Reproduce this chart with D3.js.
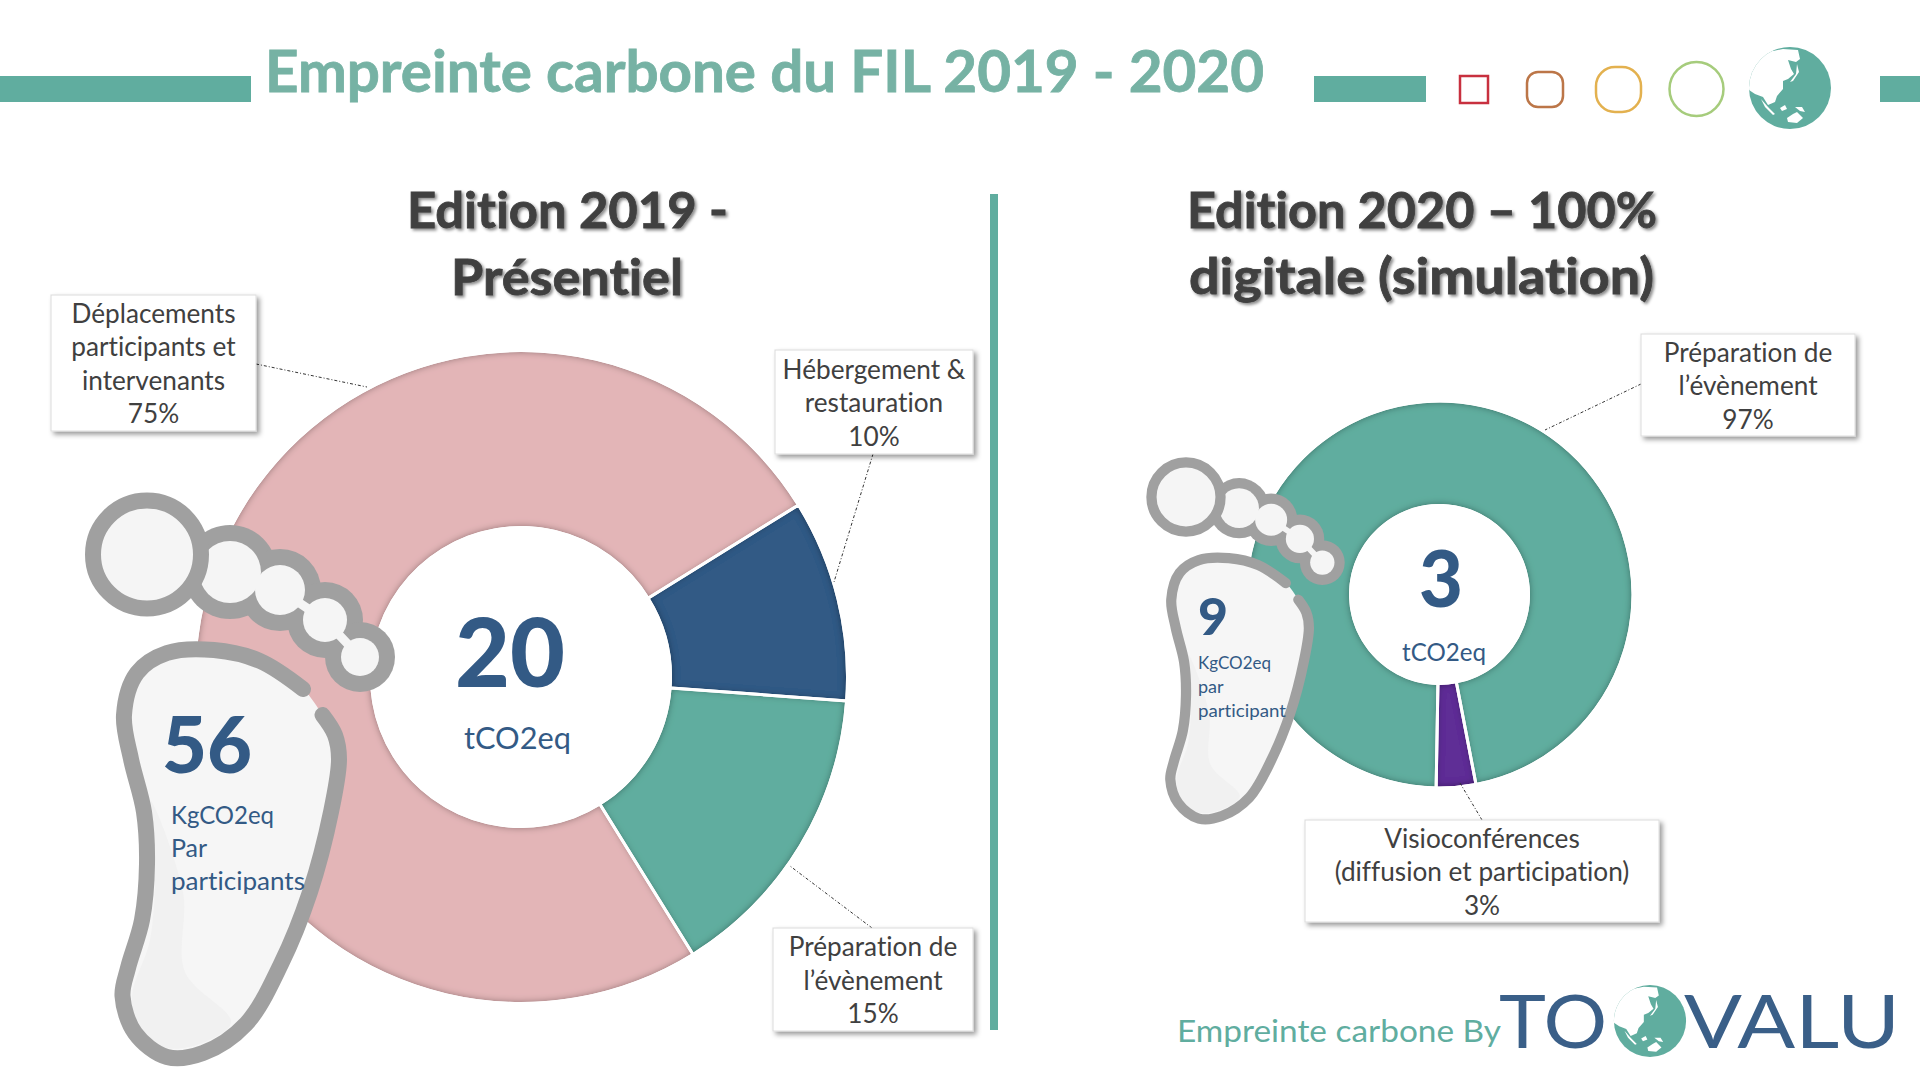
<!DOCTYPE html>
<html lang="fr">

<head>
  <meta charset="UTF-8">
  <title>Empreinte carbone du FIL 2019 - 2020</title>
  <script src="https://d3js.org/d3.v7.min.js" charset="utf-8"></script>
  <style>
    body { margin: 0; background: #fff; }
    svg { display: block; }
    text { font-family: Lato, "Open Sans", sans-serif; font-variant-ligatures: none; }
  </style>
</head>

<body>
  <script type="text/javascript">

    // Data
    const labels2019 = [
      ["Hébergement &", "restauration"],
      ["Préparation de", "l’évènement"],
      ["Déplacements", "participants et", "intervenants"]
    ];
    const values2019 = [10, 15, 75];
    const colors2019 = ["#335A85", "#60AD9F", "#E3B5B7"];

    const labels2020 = [
      ["Préparation de", "l’évènement"],
      ["Visioconférences", "(diffusion et participation)"]
    ];
    // slice measured a bit over the printed 3%, labels round it
    const values2020 = [96.7, 3.3];
    const colors2020 = ["#60AD9F", "#5F2E96"];

    const w = 1920;
    const h = 1080;
    const teal = "#60AD9F";
    const navy = "#335A85";
    const grey = "#404040";

    const svg = d3.select("body").append("svg")
      .attr("width", w)
      .attr("height", h);

    const defs = svg.append("defs");

    // dark edge inside the slices
    const inset = defs.append("filter").attr("id", "inset")
      .attr("x", "-5%").attr("y", "-5%").attr("width", "110%").attr("height", "110%");
    inset.append("feGaussianBlur").attr("in", "SourceAlpha").attr("stdDeviation", 3.5).attr("result", "blur");
    inset.append("feComposite").attr("in", "SourceAlpha").attr("in2", "blur")
      .attr("operator", "out").attr("result", "edge");
    inset.append("feFlood").attr("flood-color", "#000").attr("flood-opacity", 0.7).attr("result", "dark");
    inset.append("feComposite").attr("in", "dark").attr("in2", "edge").attr("operator", "in").attr("result", "shade");
    const insetMerge = inset.append("feMerge");
    insetMerge.append("feMergeNode").attr("in", "SourceGraphic");
    insetMerge.append("feMergeNode").attr("in", "shade");

    defs.append("filter").attr("id", "boxShadow")
      .attr("x", "-10%").attr("y", "-10%").attr("width", "120%").attr("height", "125%")
      .append("feDropShadow")
      .attr("dx", 3).attr("dy", 3).attr("stdDeviation", 2.5)
      .attr("flood-color", "#000").attr("flood-opacity", 0.4);

    defs.append("filter").attr("id", "titleShadow")
      .attr("x", "-5%").attr("y", "-10%").attr("width", "110%").attr("height", "130%")
      .append("feDropShadow")
      .attr("dx", 2).attr("dy", 2).attr("stdDeviation", 1.5)
      .attr("flood-color", "#000").attr("flood-opacity", 0.45);

    defs.append("clipPath").attr("id", "globeClip")
      .append("circle").attr("r", 41);

    // text helper, length pins the width because Calibri is not installed
    function label(parent, str, x, y, size, color, opts) {
      opts = opts || {};
      const t = parent.append("text")
        .text(str)
        .attr("x", x)
        .attr("y", y)
        .attr("font-size", size)
        .attr("fill", color)
        .attr("font-weight", opts.weight || 400)
        .attr("text-anchor", opts.anchor || "start");
      if (opts.length) {
        t.attr("textLength", opts.length).attr("lengthAdjust", "spacingAndGlyphs");
      }
      if (opts.thick) {
        t.attr("stroke", color).attr("stroke-width", opts.thick);
      }
      return t;
    }

    // ---- header ----
    [[0, 251], [1314, 1426], [1880, 1920]].forEach(function (b) {
      svg.append("rect")
        .attr("x", b[0]).attr("y", 76)
        .attr("width", b[1] - b[0]).attr("height", 26)
        .attr("fill", teal);
    });

    label(svg, "Empreinte carbone du FIL 2019 - 2020", 265, 92, 57, "#76B2A4", { weight: 700, length: 999, thick: 0.8 });

    svg.append("rect").attr("x", 1460).attr("y", 76).attr("width", 28).attr("height", 27)
      .attr("fill", "none").attr("stroke", "#C8303F").attr("stroke-width", 2.5);
    svg.append("rect").attr("x", 1527).attr("y", 72).attr("width", 36).attr("height", 35).attr("rx", 11)
      .attr("fill", "none").attr("stroke", "#BC7648").attr("stroke-width", 2.5);
    svg.append("rect").attr("x", 1596).attr("y", 67).attr("width", 45).attr("height", 45).attr("rx", 19)
      .attr("fill", "none").attr("stroke", "#E3B14F").attr("stroke-width", 2.5);
    svg.append("circle").attr("cx", 1696.5).attr("cy", 89).attr("r", 27)
      .attr("fill", "none").attr("stroke", "#A6CC7C").attr("stroke-width", 2.5);

    const landShapes = [
      [[-17, -37], [-7, -39], [8, -38], [10, -29], [6, -26], [-2, -28], [1, -19], [4, -14], [-2, -9], [-7, -7], [-7, 1], [-13, 8], [-15, 14], [-22, 17], [-27, 9], [-35, 6], [-41, 2], [-60, 0], [-60, -60], [-17, -60]],
      [[7, -24], [9, -16], [3, -7], [0, -6], [6, -14]],
      [[-29, 11], [-22, 19], [-15, 26], [-17, 27], [-25, 19]],
      [[-10, 20], [-5, 17], [-3, 21], [-8, 23]],
      [[5, 19], [12, 19], [15, 24], [10, 23]],
      [[-3, 30], [3, 26], [7, 24], [13, 30], [7, 35], [-2, 34]]
    ];

    function drawGlobe(cx, cy, k) {
      const g = svg.append("g")
        .attr("transform", "translate(" + cx + "," + cy + ") scale(" + k + ")");
      g.append("circle").attr("r", 41).attr("fill", teal);
      g.append("g").attr("clip-path", "url(#globeClip)")
        .selectAll("path")
        .data(landShapes)
        .enter()
        .append("path")
        .attr("d", function (d) { return "M" + d.join("L") + "Z"; })
        .attr("fill", "#fff");
    }
    drawGlobe(1790, 88, 1);

    // ---- section titles and divider ----
    const title1 = svg.append("g").attr("filter", "url(#titleShadow)");
    label(title1, "Edition 2019 -", 407, 228, 50, grey, { weight: 700, length: 321, thick: 0.8 });
    label(title1, "Présentiel", 451, 295, 50, grey, { weight: 700, length: 232, thick: 0.8 });
    const title2 = svg.append("g").attr("filter", "url(#titleShadow)");
    label(title2, "Edition 2020 – 100%", 1187, 228, 50, grey, { weight: 700, length: 470, thick: 0.8 });
    label(title2, "digitale (simulation)", 1189, 294, 50, grey, { weight: 700, length: 465, thick: 0.8 });

    svg.append("rect").attr("x", 990).attr("y", 194).attr("width", 8).attr("height", 836).attr("fill", teal);

    // ---- donuts ----
    function drawDonut(values, colors, cx, cy, rOuter, rInner, startDeg) {
      const start = startDeg * Math.PI / 180;
      const pie = d3.pie().sort(null).startAngle(start).endAngle(start + 2 * Math.PI);
      const arcs = pie(values);
      const arc = d3.arc().innerRadius(rInner).outerRadius(rOuter);
      const rim = d3.arc().innerRadius(rInner - 1.5).outerRadius(rOuter + 1.5);

      const g = svg.append("g").attr("transform", "translate(" + cx + "," + cy + ")");

      g.selectAll("path.slice")
        .data(arcs)
        .enter()
        .append("path")
        .attr("class", "slice")
        .attr("d", arc)
        .attr("fill", function (d, i) { return colors[i]; })
        .attr("filter", "url(#inset)");

      // white separators between the slices
      g.selectAll("path.rim")
        .data(arcs)
        .enter()
        .append("path")
        .attr("class", "rim")
        .attr("d", rim)
        .attr("fill", "none")
        .attr("stroke", "#fff")
        .attr("stroke-width", 3);
    }

    drawDonut(values2019, colors2019, 521, 677, 325, 151, 58.2);
    drawDonut(values2020, colors2020, 1439.5, 594.5, 192, 90.5, 181);

    // ---- callouts ----
    function drawCallout(lines, value, box, from, to) {
      svg.append("line")
        .attr("x1", from[0]).attr("y1", from[1])
        .attr("x2", to[0]).attr("y2", to[1])
        .attr("stroke", "#333")
        .attr("stroke-width", 1)
        .attr("stroke-dasharray", "3,2,1,2");

      svg.append("rect")
        .attr("x", box[0]).attr("y", box[1])
        .attr("width", box[2]).attr("height", box[3])
        .attr("fill", "#fff")
        .attr("stroke", "#dcdcdc")
        .attr("filter", "url(#boxShadow)");

      const rows = lines.concat([Math.round(value) + "%"]);
      const step = 33.5;
      const top = box[1] + box[3] / 2 - (rows.length - 1) * step / 2 + 10;
      rows.forEach(function (row, i) {
        label(svg, row, box[0] + box[2] / 2, top + i * step, 26.2, grey, { anchor: "middle" });
      });
    }

    drawCallout(labels2019[2], values2019[2], [51, 295, 205, 136], [256, 364], [367, 387]);
    drawCallout(labels2019[0], values2019[0], [775, 350, 198, 104], [873, 454], [834, 582]);
    drawCallout(labels2019[1], values2019[1], [773, 928, 200, 103], [872, 928], [790, 866]);
    drawCallout(labels2020[0], values2020[0], [1641, 334, 214, 102], [1641, 384], [1545, 430]);
    drawCallout(labels2020[1], values2020[1], [1305, 820, 354, 102], [1482, 820], [1460, 783]);

    // ---- footprints ----
    const soleOutline = [[303, 689], [260, 661], [214, 650], [167, 653], [137, 673], [124, 715], [131, 759], [144, 812], [147, 864], [142, 920], [128, 968], [122.5, 996], [135, 1033], [167, 1057], [203, 1053], [246, 1024], [281, 964], [310, 892], [331, 812], [339, 759], [335, 735], [322.5, 715]];
    const soleShade = [[183, 892], [185, 972], [231, 1022], [205, 1042], [167, 1048], [140, 1030], [132, 996], [150, 940], [155, 864], [150, 800]];
    const bigToe = { x: 147, y: 554.5, r: 54, inner: 46 };
    const smallToes = [
      { x: 230, y: 572, r: 39, inner: 31 },
      { x: 280, y: 590, r: 33, inner: 25 },
      { x: 325, y: 620, r: 30, inner: 22 },
      { x: 360, y: 657, r: 27, inner: 19 }
    ];

    function drawFoot(cx, cy, k) {
      const g = svg.append("g")
        .attr("transform", "translate(" + cx + "," + cy + ") scale(" + k + ") translate(-147,-554.5)");

      g.append("path")
        .attr("d", d3.line().curve(d3.curveCatmullRomClosed)(soleOutline))
        .attr("fill", "#F6F6F6");
      g.append("path")
        .attr("d", d3.line().curve(d3.curveCatmullRomClosed)(soleShade))
        .attr("fill", "#F1F1F1");
      g.append("path")
        .attr("d", d3.line().curve(d3.curveCatmullRom)(soleOutline))
        .attr("fill", "none")
        .attr("stroke", "#A0A0A0")
        .attr("stroke-width", 16)
        .attr("stroke-linecap", "round");

      // grey discs first, then the pale insides joined by a small neck
      g.selectAll("circle.toeLine")
        .data(smallToes)
        .enter()
        .append("circle")
        .attr("class", "toeLine")
        .attr("cx", function (d) { return d.x; })
        .attr("cy", function (d) { return d.y; })
        .attr("r", function (d) { return d.r + 8; })
        .attr("fill", "#A0A0A0");

      g.append("path")
        .attr("d", d3.line().x(function (d) { return d.x; }).y(function (d) { return d.y; })(smallToes))
        .attr("fill", "none")
        .attr("stroke", "#F5F5F5")
        .attr("stroke-width", 9);

      g.selectAll("circle.toeFill")
        .data(smallToes)
        .enter()
        .append("circle")
        .attr("class", "toeFill")
        .attr("cx", function (d) { return d.x; })
        .attr("cy", function (d) { return d.y; })
        .attr("r", function (d) { return d.inner; })
        .attr("fill", "#F5F5F5");

      // big toe sits on top of the second one
      g.append("circle")
        .attr("cx", bigToe.x)
        .attr("cy", bigToe.y)
        .attr("r", bigToe.r)
        .attr("fill", "#F5F5F5")
        .attr("stroke", "#A0A0A0")
        .attr("stroke-width", 16);
    }

    drawFoot(147, 554.5, 1);
    drawFoot(1186, 497, 0.64);

    // ---- numbers ----
    label(svg, "20", 455, 687, 95, navy, { weight: 900, length: 110 });
    label(svg, "tCO2eq", 464, 749, 31, navy, { length: 107 });
    label(svg, "56", 162, 773, 78, navy, { weight: 900, length: 90 });
    label(svg, "KgCO2eq", 171, 824, 25, navy, { length: 103 });
    label(svg, "Par", 171, 857, 25, navy);
    label(svg, "participants", 171, 890, 25, navy, { length: 134 });

    label(svg, "3", 1419, 607, 79, navy, { weight: 900, length: 44 });
    label(svg, "tCO2eq", 1402, 661, 25, navy, { length: 84 });
    label(svg, "9", 1198, 635, 51, navy, { weight: 900, length: 30 });
    label(svg, "KgCO2eq", 1198, 669, 18, navy, { length: 73 });
    label(svg, "par", 1198, 693, 18, navy);
    label(svg, "participant", 1198, 717, 18, navy, { length: 88 });

    // ---- footer ----
    label(svg, "Empreinte carbone By", 1177, 1042, 31, teal, { length: 324 });
    label(svg, "TO", 1499, 1048, 74, "#3A5F88", { length: 108 });
    drawGlobe(1650, 1021, 0.88);
    label(svg, "VALU", 1684, 1048, 74, "#3A5F88", { length: 216 });

  </script>
</body>

</html>
